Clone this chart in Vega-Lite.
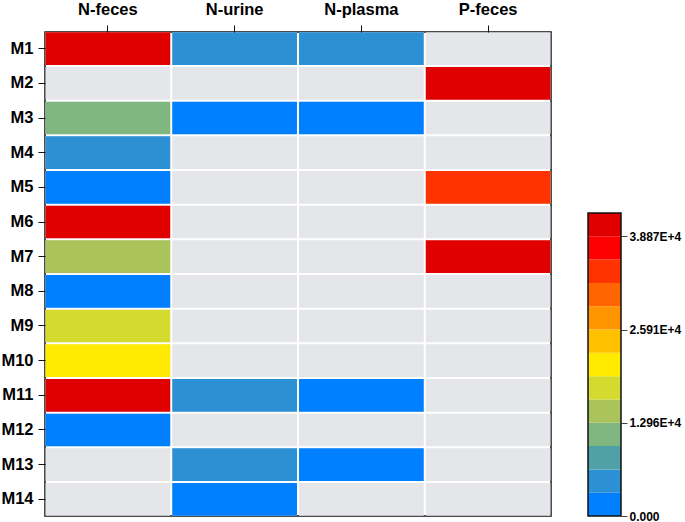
{
  "$schema": "https://vega.github.io/schema/vega-lite/v6.json",
  "padding": {"left": 0, "top": 0, "right": 2, "bottom": 0},
  "config": {
    "font": "Liberation Sans",
    "view": {"stroke": null},
    "axis": {"labelFont": "Liberation Sans", "labelFontWeight": "bold", "labelColor": "#000", "tickColor": "#111", "domain": false, "grid": false, "title": null}
  },
  "datasets": {
    "cells": [
      {"row": "M1", "col": "N-feces", "v": 40120}, {"row": "M1", "col": "N-urine", "v": 4520}, {"row": "M1", "col": "N-plasma", "v": 5010}, {"row": "M1", "col": "P-feces", "v": null},
      {"row": "M2", "col": "N-feces", "v": null}, {"row": "M2", "col": "N-urine", "v": null}, {"row": "M2", "col": "N-plasma", "v": null}, {"row": "M2", "col": "P-feces", "v": 41200},
      {"row": "M3", "col": "N-feces", "v": 11050}, {"row": "M3", "col": "N-urine", "v": 1250}, {"row": "M3", "col": "N-plasma", "v": 980}, {"row": "M3", "col": "P-feces", "v": null},
      {"row": "M4", "col": "N-feces", "v": 4870}, {"row": "M4", "col": "N-urine", "v": null}, {"row": "M4", "col": "N-plasma", "v": null}, {"row": "M4", "col": "P-feces", "v": null},
      {"row": "M5", "col": "N-feces", "v": 1530}, {"row": "M5", "col": "N-urine", "v": null}, {"row": "M5", "col": "N-plasma", "v": null}, {"row": "M5", "col": "P-feces", "v": 34150},
      {"row": "M6", "col": "N-feces", "v": 39800}, {"row": "M6", "col": "N-urine", "v": null}, {"row": "M6", "col": "N-plasma", "v": null}, {"row": "M6", "col": "P-feces", "v": null},
      {"row": "M7", "col": "N-feces", "v": 14900}, {"row": "M7", "col": "N-urine", "v": null}, {"row": "M7", "col": "N-plasma", "v": null}, {"row": "M7", "col": "P-feces", "v": 40650},
      {"row": "M8", "col": "N-feces", "v": 1210}, {"row": "M8", "col": "N-urine", "v": null}, {"row": "M8", "col": "N-plasma", "v": null}, {"row": "M8", "col": "P-feces", "v": null},
      {"row": "M9", "col": "N-feces", "v": 17900}, {"row": "M9", "col": "N-urine", "v": null}, {"row": "M9", "col": "N-plasma", "v": null}, {"row": "M9", "col": "P-feces", "v": null},
      {"row": "M10", "col": "N-feces", "v": 21300}, {"row": "M10", "col": "N-urine", "v": null}, {"row": "M10", "col": "N-plasma", "v": null}, {"row": "M10", "col": "P-feces", "v": null},
      {"row": "M11", "col": "N-feces", "v": 40300}, {"row": "M11", "col": "N-urine", "v": 4700}, {"row": "M11", "col": "N-plasma", "v": 1620}, {"row": "M11", "col": "P-feces", "v": null},
      {"row": "M12", "col": "N-feces", "v": 850}, {"row": "M12", "col": "N-urine", "v": null}, {"row": "M12", "col": "N-plasma", "v": null}, {"row": "M12", "col": "P-feces", "v": null},
      {"row": "M13", "col": "N-feces", "v": null}, {"row": "M13", "col": "N-urine", "v": 5200}, {"row": "M13", "col": "N-plasma", "v": 2100}, {"row": "M13", "col": "P-feces", "v": null},
      {"row": "M14", "col": "N-feces", "v": null}, {"row": "M14", "col": "N-urine", "v": 1900}, {"row": "M14", "col": "N-plasma", "v": null}, {"row": "M14", "col": "P-feces", "v": null}
    ],
    "bands": [
      {"lo": 0, "hi": 3239.17}, {"lo": 3239.17, "hi": 6478.33}, {"lo": 6478.33, "hi": 9717.5}, {"lo": 9717.5, "hi": 12956.67},
      {"lo": 12956.67, "hi": 16195.83}, {"lo": 16195.83, "hi": 19435}, {"lo": 19435, "hi": 22674.17}, {"lo": 22674.17, "hi": 25913.33},
      {"lo": 25913.33, "hi": 29152.5}, {"lo": 29152.5, "hi": 32391.67}, {"lo": 32391.67, "hi": 35630.83}, {"lo": 35630.83, "hi": 38870},
      {"lo": 38870, "hi": 42109.17}
    ],
    "frame": [{"lo": 0, "hi": 42109.17}]
  },
  "spacing": 35,
  "hconcat": [
    {
      "width": 506,
      "height": 484,
      "view": {"stroke": "#111", "strokeWidth": 1.5},
      "data": {"name": "cells"},
      "encoding": {
        "x": {"field": "col", "type": "nominal", "sort": ["N-feces", "N-urine", "N-plasma", "P-feces"], "scale": {"paddingInner": 0.016, "paddingOuter": 0.004},
              "axis": {"orient": "top", "labelAngle": 0, "labelFontSize": 16.5, "tickSize": 7, "labelPadding": 7.5}},
        "y": {"field": "row", "type": "nominal", "sort": ["M1","M2","M3","M4","M5","M6","M7","M8","M9","M10","M11","M12","M13","M14"], "scale": {"paddingInner": 0.058, "paddingOuter": 0.01},
              "axis": {"labelFontSize": 16.5, "tickSize": 7, "labelPadding": 5}}
      },
      "layer": [
        {"mark": {"type": "rect", "fill": "#e4e6ea"}},
        {
          "transform": [{"filter": "datum.v != null"}],
          "mark": {"type": "rect"},
          "encoding": {
            "color": {"field": "v", "type": "quantitative", "legend": null,
              "scale": {"type": "threshold",
                "domain": [3239.17, 6478.33, 9717.5, 12956.67, 16195.83, 19435, 22674.17, 25913.33, 29152.5, 32391.67, 35630.83, 38870],
                "range": ["#0080ff", "#2c90d5", "#50a0a8", "#80b780", "#aac35a", "#d4db2e", "#ffea00", "#ffc000", "#ff9500", "#ff6600", "#ff3300", "#ff0000", "#e00000"]}}
          }
        }
      ]
    },
    {
      "width": 33,
      "height": 484,
      "encoding": {
        "y": {"field": "lo", "type": "quantitative", "scale": {"domain": [0, 67261], "nice": false, "zero": true},
              "axis": {"orient": "right", "values": [0, 12956.67, 25913.33, 38870], "labelExpr": "datum.value == 0 ? '0.000' : replace(format(datum.value, '.3e'), 'e', 'E')", "labelFontSize": 12, "tickSize": 6, "labelPadding": 2, "tickColor": "#444"}},
        "y2": {"field": "hi"}
      },
      "layer": [
        {
          "data": {"name": "bands"},
          "mark": {"type": "rect"},
          "encoding": {
            "color": {"field": "lo", "type": "quantitative", "legend": null,
              "scale": {"type": "threshold",
                "domain": [3239.16, 6478.32, 9717.49, 12956.66, 16195.82, 19434.99, 22674.16, 25913.32, 29152.49, 32391.66, 35630.82, 38869.99],
                "range": ["#0080ff", "#2c90d5", "#50a0a8", "#80b780", "#aac35a", "#d4db2e", "#ffea00", "#ffc000", "#ff9500", "#ff6600", "#ff3300", "#ff0000", "#e00000"]}}
          }
        },
        {
          "data": {"name": "frame"},
          "mark": {"type": "rect", "fill": null, "stroke": "#111", "strokeWidth": 1.5}
        }
      ],
      "resolve": {"scale": {"color": "independent"}}
    }
  ],
  "resolve": {"scale": {"color": "independent"}}
}
